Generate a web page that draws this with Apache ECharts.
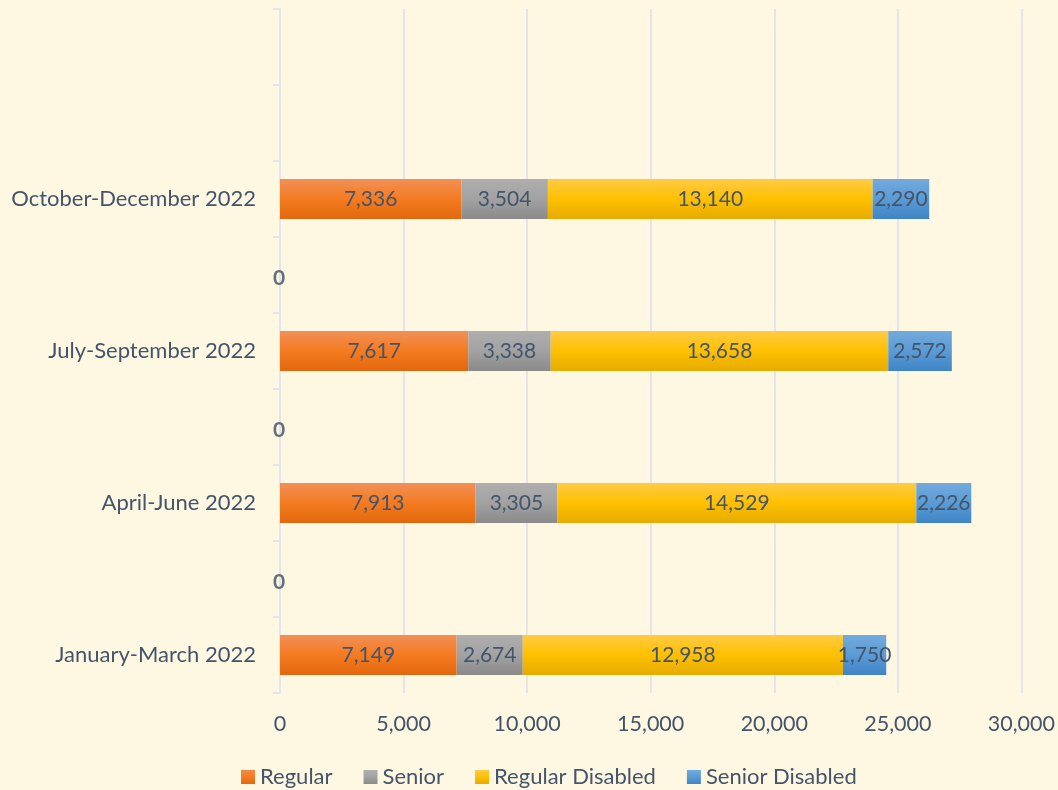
<!DOCTYPE html>
<html>
<head>
<meta charset="utf-8">
<script src="https://cdn.jsdelivr.net/npm/echarts@6/dist/echarts.min.js"></script>
<style>
html,body{margin:0;padding:0;background:#FEF8E3;}
#c{width:1058px;height:790px;}
</style>
</head>
<body>
<div id="c"></div>
<script>
// Categories bottom to top (gaps between quarters have no label)
const categories = ['January-March 2022', '', 'April-June 2022', '', 'July-September 2022', '', 'October-December 2022', '', ''];
const regular = [7149, null, 7913, null, 7617, null, 7336, null, null];
const senior = [2674, null, 3305, null, 3338, null, 3504, null, null];
const regularDisabled = [12958, null, 14529, null, 13658, null, 13140, null, null];
const seniorDisabled = [1750, null, 2226, null, 2572, null, 2290, null, null];
const zeroLabels = [null, 0, null, 0, null, 0, null, null, null];
const seriesNames = ['Regular', 'Senior', 'Regular Disabled', 'Senior Disabled'];

const textColor = '#44546A';
const fontFam = 'Lato, "Open Sans", sans-serif';

function grad(top, mid, bottom) {
  return new echarts.graphic.LinearGradient(0, 0, 0, 1, [
    {offset: 0, color: top}, {offset: 0.5, color: mid}, {offset: 1, color: bottom}
  ]);
}
const colors = [
  grad('#F29058', '#F47B20', '#E2680E'),
  grad('#AEAEAE', '#A2A2A2', '#8A8A8A'),
  grad('#FFCB45', '#FFC000', '#E5AB00'),
  grad('#72AADD', '#5B9BD5', '#3F84C6')
];
const legendColors = [
  grad('#F28A4A', '#F47B20', '#E2680E'),
  grad('#AEAEAE', '#A2A2A2', '#8A8A8A'),
  grad('#FFCB45', '#FFC000', '#E5AB00'),
  grad('#72AADD', '#5B9BD5', '#3F84C6')
];
const values = [regular, senior, regularDisabled, seniorDisabled];

const fmt = v => v == null ? '' : v.toLocaleString('en-US');

const series = values.map((arr, i) => ({
  name: seriesNames[i],
  type: 'bar',
  stack: 'total',
  barWidth: 40,
  data: arr,
  itemStyle: {color: colors[i]},
  label: {
    show: true, position: 'inside', color: textColor, fontFamily: fontFam, fontSize: 21,
    formatter: p => fmt(p.value)
  },
  emphasis: {disabled: true}
}));
series.push({
  name: 'zero',
  type: 'scatter',
  symbolSize: 1,
  itemStyle: {color: 'rgba(0,0,0,0)'},
  data: zeroLabels.map((v, i) => v == null ? null : [v, i]),
  label: {
    show: true, position: 'inside', color: '#3E4D62', fontFamily: fontFam, fontSize: 21, fontWeight: 'bold',
    offset: [-1, 3],
    formatter: p => String(p.value[0])
  },
  z: 5
});

const chart = echarts.init(document.getElementById('c'));
chart.setOption({
  backgroundColor: '#FEF8E3',
  animation: false,
  grid: {left: 280, right: 36, top: 9, bottom: 97, containLabel: false},
  legend: {
    data: seriesNames.map((n, i) => ({name: n, itemStyle: {color: legendColors[i]}})),
    top: 761, left: 236,
    icon: 'rect', itemWidth: 14, itemHeight: 14, itemGap: 31,
    textStyle: {color: textColor, fontFamily: fontFam, fontSize: 22}
  },
  xAxis: {
    type: 'value', min: 0, max: 30000, interval: 5000,
    axisLine: {show: false}, axisTick: {show: false},
    splitLine: {show: true, lineStyle: {color: '#E3E5EA', width: 2}},
    axisLabel: {color: textColor, fontFamily: fontFam, fontSize: 21.5, margin: 20,
      formatter: v => v.toLocaleString('en-US')}
  },
  yAxis: {
    type: 'category', data: categories,
    axisLine: {show: true, lineStyle: {color: '#E3E5EA', width: 2}},
    axisTick: {show: true, length: 7, lineStyle: {color: '#E3E5EA', width: 2}},
    axisLabel: {color: textColor, fontFamily: fontFam, fontSize: 22, margin: 24, interval: 0},
    splitLine: {show: false}
  },
  series: series
});
</script>
</body>
</html>
